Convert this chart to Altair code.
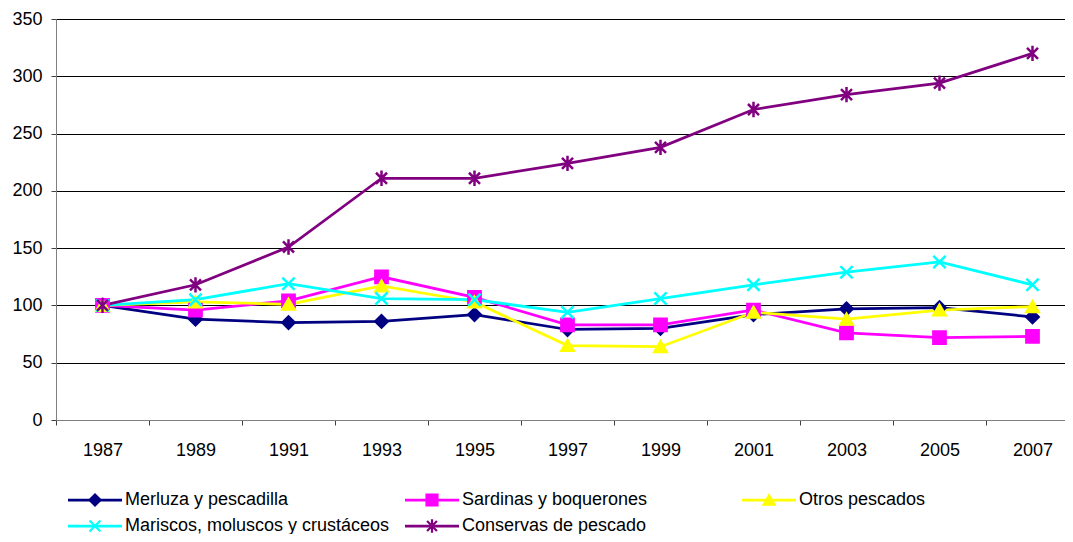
import altair as alt
import pandas as pd

years = [1987, 1989, 1991, 1993, 1995, 1997, 1999, 2001, 2003, 2005, 2007]
series = [
    "Merluza y pescadilla",
    "Sardinas y boquerones",
    "Otros pescados",
    "Mariscos, moluscos y crustáceos",
    "Conservas de pescado",
]
merluza = [100, 88, 85, 86, 92, 79, 80, 92, 97, 98, 90]
sardinas = [100, 96, 104, 125, 107, 83, 83, 96, 76, 72, 73]
otros = [100, 103, 101, 117, 103, 65, 64, 94, 88, 96, 99]
mariscos = [100, 105, 119, 106, 105, 94, 106, 118, 129, 138, 118]
conservas = [100, 118, 151, 211, 211, 224, 238, 271, 284, 294, 320]
y_ticks = [0, 50, 100, 150, 200, 250, 300, 350]

colors = ["#000080", "#FF00FF", "#FFFF00", "#00FFFF", "#800080"]
shapes = [
    "diamond",
    "square",
    "triangle-up",
    "M-1,-1L1,1M-1,1L1,-1",
    "M-0.9,-0.9L0.9,0.9M-0.9,0.9L0.9,-0.9M0,-1.25L0,1.25",
]

values = [merluza, sardinas, otros, mariscos, conservas]
rows = []
for s, vals in zip(series, values):
    for yr, v in zip(years, vals):
        rows.append({"serie": s, "year": yr, "value": v})
df = pd.DataFrame(rows)
leg_df = pd.DataFrame({"serie": series})

# category boundaries (ticks sit between the yearly categories)
boundaries = [y - 1 for y in years]

FONT = "Liberation Sans"
PLOT_W = 1009
STEP_PX = 46.5  # pixels per year (93 px per category)
color_scale = alt.Scale(domain=series, range=colors)
shape_scale = alt.Scale(domain=series, range=shapes)

x_enc = alt.X(
    "year:Q",
    scale=alt.Scale(
        domain=[boundaries[0], boundaries[0] + PLOT_W / STEP_PX], nice=False, zero=False
    ),
    axis=alt.Axis(
        title=None,
        values=boundaries,
        labelExpr="datum.value + 1",
        labelOffset=STEP_PX,
        labelFlush=False,
        labelAngle=0,
        tickSize=5,
        tickColor="#404040",
        domainColor="#808080",
        domainWidth=1,
        labelFont=FONT,
        labelFontSize=18,
        labelColor="#000000",
        labelPadding=16,
        grid=False,
    ),
)
y_enc = alt.Y(
    "value:Q",
    scale=alt.Scale(domain=[0, 350], nice=False, zero=True),
    axis=alt.Axis(
        title=None,
        values=y_ticks,
        tickSize=5,
        tickColor="#404040",
        domainColor="#808080",
        labelFont=FONT,
        labelFontSize=18,
        labelColor="#000000",
        labelPadding=9,
        grid=True,
        gridColor="#000000",
        gridWidth=1,
    ),
)

base = alt.Chart(df)
lines = base.mark_line(strokeWidth=2.75).encode(
    x=x_enc,
    y=y_enc,
    color=alt.Color("serie:N", scale=color_scale, legend=None),
)
points = base.mark_point(filled=True, size=150, strokeWidth=2.5, opacity=1).encode(
    x=x_enc,
    y=y_enc,
    color=alt.Color("serie:N", scale=color_scale, legend=None),
    stroke=alt.Stroke("serie:N", scale=color_scale, legend=None),
    shape=alt.Shape("serie:N", scale=shape_scale, legend=None),
)
main = alt.layer(lines, points)

leg_base = (
    alt.Chart(leg_df)
    .transform_window(idx="row_number()")
    .transform_calculate(col="(datum.idx - 1) % 3", row="floor((datum.idx - 1) / 3)")
)
lx = alt.X("col:O", scale=alt.Scale(type="point", padding=0, range=[39, 713]), axis=None)
ly = alt.Y("row:O", scale=alt.Scale(type="point", padding=0, range=[481, 507]), axis=None)

leg_rule = leg_base.mark_rule(strokeWidth=2.75, xOffset=-27, x2Offset=27).encode(
    x=lx,
    x2="col:O",
    y=ly,
    color=alt.Color("serie:N", scale=color_scale, legend=None),
)
leg_pts = leg_base.mark_point(filled=True, size=120, strokeWidth=2.2, opacity=1).encode(
    x=lx,
    y=ly,
    color=alt.Color("serie:N", scale=color_scale, legend=None),
    stroke=alt.Stroke("serie:N", scale=color_scale, legend=None),
    shape=alt.Shape("serie:N", scale=shape_scale, legend=None),
)
leg_text = leg_base.mark_text(
    align="left", baseline="middle", dx=30, font=FONT, fontSize=18, color="#000000"
).encode(x=lx, y=ly, text="serie:N")
legend = alt.layer(leg_rule, leg_pts, leg_text)

chart = (
    alt.layer(main, legend)
    .resolve_scale(x="independent", y="independent")
    .properties(
        width=PLOT_W,
        height=401,
        autosize=alt.AutoSizeParams(type="none"),
        padding={"left": 48, "top": 11, "right": 0, "bottom": 114},
    )
    .configure_view(stroke=None)
    .configure(font=FONT)
)

chart.save("out.html", embed_options={"renderer": "svg", "actions": False})
